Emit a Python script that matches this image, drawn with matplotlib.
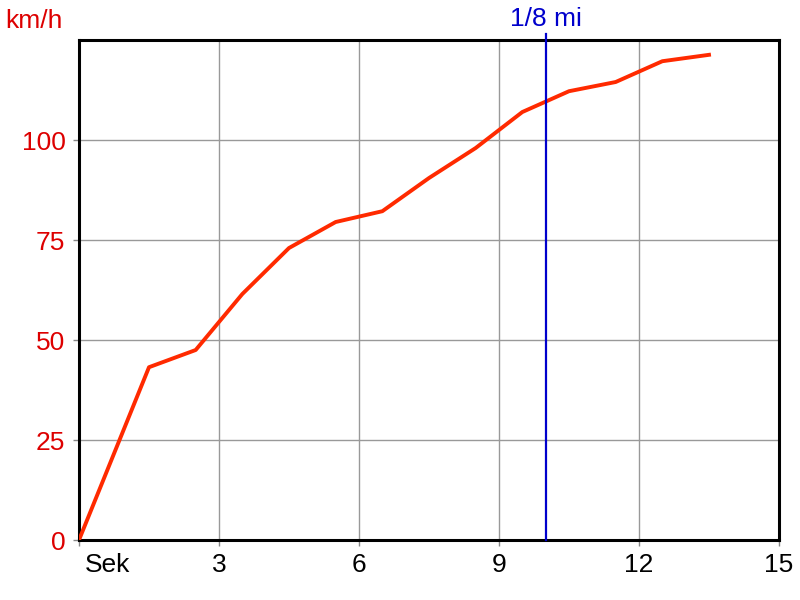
import matplotlib
matplotlib.use('Agg')
import matplotlib.pyplot as plt

# Zeit (s) und Geschwindigkeit (km/h)
sek = [0, 1.5, 2.5, 3.5, 4.5, 5.5, 6.5, 7.5, 8.5, 9.5, 10.5, 11.5, 12.5, 13.5]
kmh = [0, 43.2, 47.5, 61.5, 73, 79.5, 82.2, 90.5, 98, 107, 112.2, 114.5, 119.7, 121.3]

x_ticks = [0, 3, 6, 9, 12, 15]
x_labels = ['', '3', '6', '9', '12', '15']
y_ticks = [0, 25, 50, 75, 100]
achtel_meile = 10.0

plt.rcParams['font.family'] = ['Liberation Sans', 'DejaVu Sans']

fig = plt.figure(figsize=(8, 6), dpi=100)
ax = fig.add_axes([0.09875, 0.1, 0.875, 0.8333])

ax.plot(sek, kmh, color='#ff2a00', lw=2.8, solid_joinstyle='round', zorder=3)
ax.axvline(achtel_meile, ymin=0, ymax=1.013, color='#0000cc', lw=1.6, clip_on=False, zorder=4)

ax.set_xlim(0, 15)
ax.set_ylim(0, 125)
ax.set_xticks(x_ticks)
ax.set_xticklabels(x_labels, fontsize=19)
ax.set_yticks(y_ticks)
ax.set_yticklabels([str(v) for v in y_ticks], fontsize=19, color='#dd0000')
ax.tick_params(axis='both', direction='out', length=4.3, width=1, color='#888888')
ax.tick_params(axis='y', pad=5.5)
ax.tick_params(axis='x', pad=5)
ax.grid(True, color='#999999', lw=1)
ax.set_axisbelow(True)
for s in ax.spines.values():
    s.set_linewidth(2.2)

# Einheit der x-Achse unter dem Nullpunkt
ax.annotate('Sek', xy=(0, 0), xycoords=('data', 'axes fraction'),
            xytext=(4.5, -9.3), textcoords='offset points',
            fontsize=19, ha='left', va='top')

fig.text(0.006, 0.965, 'km/h', fontsize=19, color='#dd0000', ha='left', va='center')
ax.text(achtel_meile, 1.018, '1/8 mi', transform=ax.get_xaxis_transform(),
        fontsize=19, color='#0000cc', ha='center', va='bottom')

fig.savefig('out.png', dpi=100)
